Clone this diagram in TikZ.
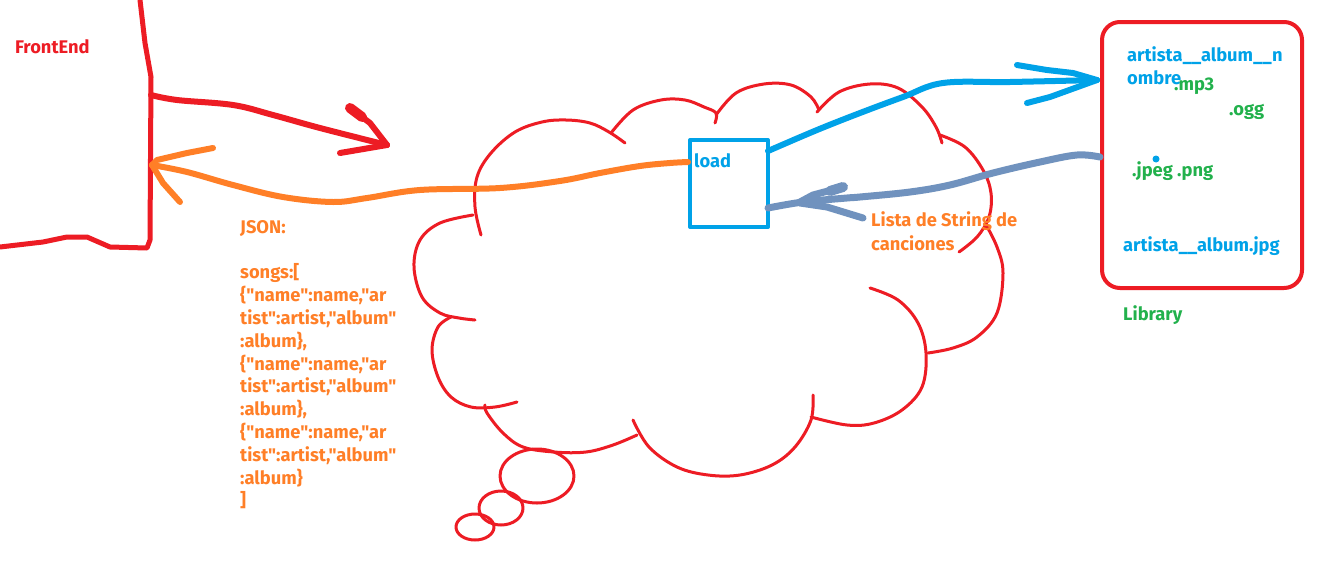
\documentclass[tikz,border=0pt]{standalone}
\usepackage{fontspec}
\setmainfont{Fira Sans}[Ligatures=TeXOff]
\newcommand\dq{"}
\definecolor{pred}{HTML}{ED1C24}
\definecolor{porange}{HTML}{FF7F27}
\definecolor{pblue}{HTML}{00A2E8}
\definecolor{psteel}{HTML}{7092BE}
\definecolor{pgreen}{HTML}{22B14C}
\begin{document}
\begin{tikzpicture}[x=1pt,y=-1pt,line cap=round,line join=round,
  txt/.style={font=\fontsize{18.3}{22.8}\selectfont\bfseries,inner sep=0pt,anchor=base west},
  mtxt/.style={font=\fontsize{18.3}{22.8}\selectfont\bfseries,inner sep=0pt,anchor=north west,align=left},
  wall/.style={draw=pred,line width=5pt},
  redstroke/.style={draw=pred,line width=6pt},
  orgstroke/.style={draw=porange,line width=6pt},
  bluestroke/.style={draw=pblue,line width=6pt},
  steelstroke/.style={draw=psteel,line width=7pt},
  cloudarc/.style={draw=pred,line width=3pt},
  sm/.style={smooth,tension=0.6}]
\useasboundingbox[fill=white] (0,0) rectangle (1319,576);

% FrontEnd wall
\draw[wall] (140,0) -- (145,43) -- (151,77) -- (150,240) -- (147,248) -- (110,247) -- (87,237) -- (67,237) -- (43,242) -- (0,247);
\node[txt,text=pred] (fe) at (15,53) {FrontEnd};
\coordinate (wallA) at (151,95);
\coordinate (wallB) at (152,165);

% Cloud
\draw[cloudarc] plot[sm] coordinates {(481,235) (475,207) (477,177) (491,153) (515,132) (542,122) (566,120) (590,123) (609,132) (625,143)};
\draw[cloudarc] plot[sm] coordinates {(611,133) (633,110) (661,100) (685,100) (704,107) (716,113) (715,123)};
\draw[cloudarc] plot[sm] coordinates {(716,115) (736,93) (764,84) (791,85) (811,97) (819,110)};
\draw[cloudarc] plot[sm] coordinates {(817,112) (839,92) (870,84) (898,88) (922,107) (936,127) (942,143)};
\draw[cloudarc] plot[sm] coordinates {(940,135) (965,147) (983,170) (991,193) (989,217) (977,237) (959,252)};
\draw[cloudarc] plot[sm] coordinates {(985,223) (997,247) (1003,273) (997,313) (977,337) (953,348) (928,353)};
\draw[cloudarc] plot[sm] coordinates {(870,288) (898,300) (918,323) (926,353) (922,387) (902,410) (874,423) (847,425) (811,417)};
\draw[cloudarc] plot[sm] coordinates {(813,395) (811,420) (795,447) (772,465) (740,475) (708,475) (677,467) (649,447) (633,420)};
\draw[cloudarc] plot[sm] coordinates {(637,435) (613,445) (586,452) (554,452) (523,447) (503,433) (487,413) (485,405)};
\draw[cloudarc] plot[sm] coordinates {(517,402) (495,407) (471,407) (451,397) (438,377) (432,350) (438,327) (451,317)};
\draw[cloudarc] plot[sm] coordinates {(475,320) (459,318) (440,313) (422,297) (414,267) (420,240) (440,223) (473,215)};
\draw[cloudarc] (537,476) ellipse [x radius=37,y radius=27];
\draw[cloudarc] (501,508) ellipse [x radius=22,y radius=17];
\draw[cloudarc] (475,527) ellipse [x radius=19,y radius=13];

% load box
\node[draw=pblue,line width=4pt,minimum width=78pt,minimum height=87pt,anchor=north west,inner sep=0pt] (load) at (688,138) {};
\node[txt,text=pblue] (loadlbl) at (694,167) {load};
\coordinate (loadW) at (688,162);
\coordinate (loadNE) at (768,151);
\coordinate (loadSE) at (768,208);

% Library box
\node[draw=pred,line width=4pt,rounded corners=18pt,minimum width=200pt,minimum height=266pt,anchor=north west,inner sep=0pt] (lib) at (1100,20) {};
\coordinate (libA) at (1097,80);
\coordinate (libB) at (1100,157);
\node[txt,text=pblue] (f1) at (1127,61) {artista\_\_album\_\_n};
\node[txt,text=pblue] (f2) at (1127,84) {ombre};
\node[txt,text=pgreen] (mp3) at (1174,90) {.mp3};
\node[txt,text=pgreen] (ogg) at (1229,115) {.ogg};
\fill[pblue] (1156,159) circle (3.5pt);
\node[txt,text=pgreen] (img) at (1132,176) {.jpeg .png};
\node[txt,text=pblue] (f3) at (1123,251) {artista\_\_album.jpg};
\node[txt,text=pgreen] (libl) at (1123,320) {Library};

% red arrow FrontEnd -> cloud
\coordinate (redTip) at (387,145);
\draw[redstroke] plot[sm] coordinates {(wallA) (177,100) (233,105) (273,115) (320,128) (redTip)};
\draw[draw=pred,line width=10pt] (350,108) -- (362,117);
\draw[redstroke] (350,108) -- (370,123) -- (redTip);
\draw[redstroke] (340,153) -- (redTip);

% orange arrow load -> FrontEnd
\draw[orgstroke] plot[sm] coordinates {(loadW) (670,163) (640,166) (600,173) (560,181) (500,188) (420,190) (367,198) (333,202) (283,197) (233,185) (187,172) (wallB)};
\draw[orgstroke] (213,148) -- (187,153) -- (157,160) -- (wallB);
\draw[orgstroke] (wallB) -- (163,183) -- (180,202);

% blue arrow load -> Library
\draw[bluestroke] plot[sm] coordinates {(loadNE) (817,130) (860,113) (903,97) (943,83) (1010,82) (libA)};
\draw[bluestroke] (1017,65) -- (1047,70) -- (1073,73) -- (libA);
\draw[bluestroke] (1027,103) -- (1050,97) -- (libA);

% steel arrow Library -> load
\draw[steelstroke] plot[sm] coordinates {(libB) (1077,155) (1040,162) (993,173) (950,185) (910,192) (860,197) (847,198) (803,202) (loadSE)};
\draw[draw=psteel,line width=10pt] (843,187) -- (830,191);
\draw[steelstroke] (843,187) -- (813,195) -- (800,202);
\draw[steelstroke] (863,218) -- (827,207) -- (800,203);

% labels
\node[txt,text=porange] (lista1) at (871,226) {Lista de String de};
\node[txt,text=porange] (lista2) at (871,250) {canciones};
\node[mtxt,text=porange] (json) at (240,220) {JSON:\\[22.8pt]songs:[\\\{\dq name\dq:name,\dq ar\\tist\dq:artist,\dq album\dq\\:album\},\\\{\dq name\dq:name,\dq ar\\tist\dq:artist,\dq album\dq\\:album\},\\\{\dq name\dq:name,\dq ar\\tist\dq:artist,\dq album\dq\\:album\}\\]};
\end{tikzpicture}
\end{document}
